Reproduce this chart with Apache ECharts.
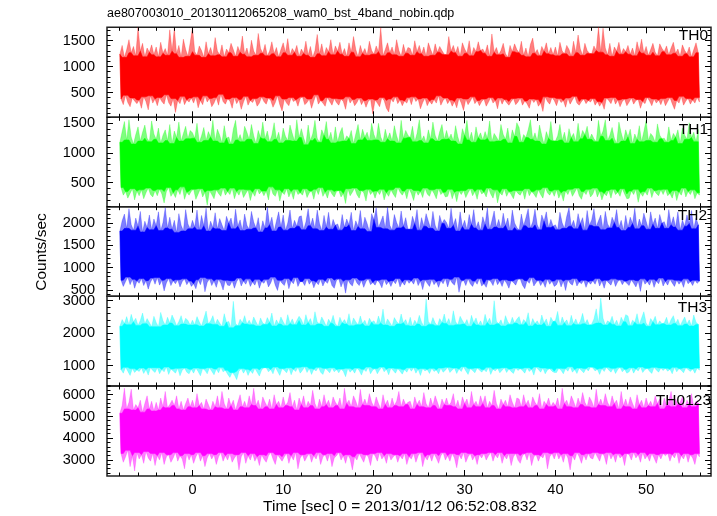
<!DOCTYPE html>
<html><head><meta charset="utf-8">
<script src="https://cdn.jsdelivr.net/npm/echarts@6/dist/echarts.min.js"></script>
<style>html,body{margin:0;padding:0;background:#fff}#c{width:717px;height:516px}</style>
</head><body><div id="c"></div>
<script>
// ---- data (counts/sec), one value every 0.125 s starting at t = -8 s ----
// values alternate between local highs and local lows of the light curve
const TIME_START = -8;
const TIME_STEP = 0.125;

const TH0 = [
1240,380,1410,270,1180,450,1330,310,1520,230,1270,400,1390,340,1210,290,1760,360,1300,200,1450,420,1190,330,1360,170,1280,440,1420,300,1230,380,
1380,250,1190,410,1470,330,1260,280,1350,460,1220,310,1710,240,1300,390,1740,120,1250,350,1410,290,1180,430,1530,270,1330,360,1200,320,1460,400,
1760,300,1290,420,1220,210,1400,350,1310,270,1180,440,1480,320,1250,390,1370,230,1210,300,1560,410,1300,260,1230,470,1420,330,1190,280,1340,380,
1270,340,1450,200,1330,410,1200,290,1390,370,1280,180,1590,320,1240,430,1360,260,1190,350,1510,310,1300,390,1220,240,1640,300,1350,420,1260,330,
1430,280,1210,400,1300,350,1480,220,1250,310,1370,440,1190,270,1330,150,1460,380,1270,300,1540,250,1220,410,1350,330,1280,360,1410,240,1200,390,
1340,420,1260,270,1490,310,1220,380,1390,200,1180,340,1310,460,1620,280,1250,350,1440,300,1210,240,1370,410,1290,330,1520,260,1230,390,1400,310,
1300,260,1470,380,1240,330,1350,180,1200,420,1460,300,1280,370,1580,250,1330,310,1190,400,1410,270,1260,350,1350,220,1220,330,1490,380,1310,90,
1240,360,1400,300,1290,230,1750,410,1210,350,1330,200,1460,130,1270,380,1380,320,1230,420,1520,290,1310,360,1200,250,1430,340,1260,300,1370,410,
1350,270,1220,420,1500,330,1290,380,1410,190,1250,310,1380,400,1200,250,1460,340,1330,280,1220,370,1440,300,1280,440,1390,260,1310,350,1240,400,
1230,290,1580,360,1300,240,1410,330,1270,210,1390,400,1200,300,1460,160,1340,380,1260,270,1500,340,1210,420,1370,290,1290,350,1480,250,1310,330,
1340,380,1260,240,1420,320,1200,410,1630,300,1280,350,1370,190,1230,400,1310,280,1450,370,1250,310,1180,260,1410,330,1290,390,1440,270,1330,320,
1270,400,1490,260,1220,340,1360,290,1190,200,1430,380,1550,310,1260,370,1330,240,1210,300,1390,140,1300,420,1460,330,1250,280,1370,410,1230,350,
1380,250,1210,390,1470,310,1300,350,1250,220,1410,400,1330,280,1200,360,1490,430,1270,300,1610,260,1340,330,1220,380,1450,290,1310,350,1260,320,
1250,390,1400,260,1310,330,1760,240,1280,310,1740,180,1360,400,1230,350,1450,290,1200,410,1380,280,1300,360,1470,230,1240,330,1350,380,1290,250,
1410,320,1240,400,1360,280,1210,350,1480,370,1300,200,1530,330,1260,290,1390,410,1220,340,1330,250,1450,380,1280,300,1210,360,1440,270,1350,390,
1290,250,1400,330,1230,410,1360,290,1470,180,1260,350,1340,300,1200,430,1420,260,1310,340,1250,390,1380,280,1190,360,1330,300,1460,410,1270,320];

const TH1 = [
1180,420,1360,290,1530,350,1220,240,1560,320,1270,400,1150,210,1310,360,1440,280,1200,380,1350,230,1470,330,1250,410,1190,300,1540,260,1320,370,
1230,280,1420,390,1170,310,1300,160,1390,350,1210,420,1480,270,1160,330,1370,250,1260,380,1520,300,1200,430,1330,220,1450,340,1240,290,1380,360,
1340,390,1250,220,1500,310,1180,400,1290,260,1430,340,1210,120,1360,370,1270,300,1550,230,1200,380,1400,320,1300,270,1170,410,1460,290,1250,350,
1270,300,1150,410,1400,230,1550,350,1220,290,1310,390,1190,250,1450,320,1350,380,1230,200,1480,340,1290,270,1160,400,1380,310,1260,360,1520,280,
1240,360,1370,210,1190,430,1300,310,1510,270,1230,380,1350,190,1170,340,1420,300,1280,400,1210,260,1470,350,1330,220,1200,390,1560,300,1260,330,
1410,290,1260,400,1140,250,1470,330,1210,360,1320,220,1550,390,1250,300,1180,420,1390,270,1300,340,1530,240,1230,380,1350,310,1170,260,1440,350,
1190,370,1340,260,1430,320,1200,150,1290,400,1250,280,1380,340,1160,410,1320,300,1480,240,1220,370,1400,330,1270,190,1350,390,1210,300,1500,350,
1310,240,1220,360,1500,300,1270,390,1180,210,1400,330,1240,270,1340,380,1200,310,1460,250,1290,420,1170,340,1550,290,1250,360,1380,230,1300,400,
1260,320,1450,200,1190,370,1330,290,1560,350,1210,250,1290,410,1170,310,1390,270,1240,380,1520,320,1300,230,1200,400,1360,300,1480,340,1230,260,
1380,270,1240,390,1320,230,1200,340,1460,180,1270,360,1150,300,1410,370,1300,250,1550,330,1220,400,1350,280,1180,350,1440,220,1260,390,1340,310,
1220,340,1360,260,1250,410,1540,310,1190,240,1330,380,1270,160,1200,330,1480,290,1310,400,1230,270,1420,350,1170,300,1390,230,1280,370,1510,320,
1430,290,1180,370,1310,220,1260,400,1390,280,1560,350,1230,310,1340,250,1200,380,1470,300,1290,240,1150,420,1360,330,1250,290,1530,360,1210,270,
1200,380,1290,240,1480,330,1220,190,1350,360,1170,300,1410,390,1260,270,1330,340,1190,410,1500,280,1240,220,1380,350,1310,300,1450,390,1230,260,
1320,310,1240,410,1190,260,1550,350,1280,210,1370,320,1560,280,1210,370,1300,240,1430,390,1250,300,1160,340,1520,270,1340,400,1200,310,1390,230,
1270,240,1400,360,1160,300,1320,390,1230,170,1460,330,1190,270,1360,350,1550,290,1210,410,1330,250,1280,370,1180,320,1490,280,1300,380,1240,300,
1250,390,1180,280,1440,320,1210,240,1330,370,1270,200,1390,340,1160,290,1420,410,1300,260,1230,350,1510,300,1260,380,1350,230,1190,330,1400,290];

const TH2 = [
1820,720,2050,580,2200,690,1880,790,2320,620,1960,740,1840,540,2110,700,1930,650,2260,760,1800,600,2040,710,1900,520,2180,680,1850,770,2090,630,
1940,780,2250,610,1830,720,2010,480,2340,660,1890,760,2130,600,1860,710,2060,640,1790,730,2210,570,1950,690,1820,750,2300,620,1980,700,1870,580,
2060,640,1910,530,2290,730,1850,620,2170,780,1940,460,2330,670,1820,750,2040,600,1900,700,2230,560,1870,740,2100,650,1960,500,1830,720,2150,610,
2000,600,2110,710,1870,540,2310,690,1930,770,2070,590,1830,700,2200,630,1950,750,1860,580,2260,680,2020,610,1890,740,2120,540,1800,690,2050,650,
1890,740,2350,570,1960,660,2130,790,1820,610,2040,490,2250,720,1910,650,2180,600,1840,760,2000,530,2290,700,1880,640,2060,780,1930,580,2140,690,
2160,690,1850,600,2020,760,2320,630,1940,710,2110,550,1870,680,2290,620,1990,740,1830,590,2170,700,1910,650,2240,770,1860,600,2080,540,1950,720,
1980,750,1840,570,2190,700,1910,430,2090,730,1960,640,2240,590,1830,770,2050,660,1920,600,2280,720,1870,560,2130,690,1990,750,1810,620,2210,670,
2080,610,2340,720,1900,660,2030,550,2160,740,1870,620,2350,690,1950,580,1840,710,2190,640,2010,760,1890,570,2270,680,1930,610,2120,730,1860,650,
1860,710,2150,630,1990,770,2300,600,1840,700,2120,510,1930,730,2210,650,2040,580,1880,740,2260,620,1950,690,1820,560,2170,710,1990,640,2080,760,
2010,570,1880,740,2330,660,1950,610,2100,790,1820,450,2250,680,1920,720,2060,600,1850,750,2190,640,1970,580,2300,700,1890,630,2030,760,1840,590,
2140,640,1970,560,2340,730,1860,690,2050,600,2270,760,1910,620,2080,700,1880,580,2220,730,1950,650,2110,540,1830,710,2290,670,2000,610,1900,740,
1840,750,2200,610,1940,530,2120,710,2320,650,1890,780,2020,590,2310,670,1960,720,1850,600,2180,690,2040,560,2250,740,1900,630,2080,700,1930,580,
1960,620,1850,740,2240,570,2000,700,1880,490,2150,730,2340,650,1930,610,2060,760,1870,590,2210,680,1990,640,2120,720,1840,560,2280,690,1950,630,
2070,710,2320,630,1920,760,2050,590,2180,700,1850,540,2260,720,1980,660,1890,610,2130,750,2010,580,2300,690,1900,730,2060,620,1830,700,2170,650,
1900,600,2130,730,1990,650,2330,570,1870,710,2090,470,1940,750,2220,630,2040,690,1860,610,2250,740,1970,560,2110,700,1880,640,2190,770,2000,590,
2030,690,1880,610,2300,740,1960,660,2140,580,1910,720,2250,630,1840,700,2070,560,1930,750,2180,640,1990,690,2280,600,1870,720,2110,650,1960,700];

const TH3 = [
2210,880,2420,770,2300,950,2510,830,2260,700,2580,910,2350,790,2460,870,2240,820,2390,930,2620,760,2290,880,2450,710,2330,940,2200,850,2520,790,
2330,940,2200,750,2640,880,2380,810,2250,960,2490,730,2310,900,2560,840,2410,770,2230,920,2360,690,2540,860,2280,930,2460,800,2390,750,2250,890,
2400,770,2260,930,2510,820,2350,690,2220,910,2450,860,2680,750,2290,940,2380,830,2540,720,2270,900,2430,780,2310,950,2210,810,2600,860,2340,740,
2360,640,2170,790,2980,710,2300,570,2230,830,2430,910,2320,770,2540,890,2280,700,2400,850,2260,760,2500,920,2350,800,2220,680,2470,870,2310,940,
2270,940,2480,810,2340,880,2620,750,2220,960,2410,830,2280,700,2500,910,2350,860,2230,780,2570,940,2300,720,2440,890,2260,820,2390,950,2520,770,
2420,860,2250,970,2570,790,2330,910,2450,730,2240,890,2660,840,2350,950,2280,800,2500,730,2370,920,2210,860,2430,780,2310,940,2550,810,2290,880,
2210,780,2490,900,2320,830,2420,660,2280,920,2600,800,2230,880,2470,770,2350,930,2260,850,2530,710,2300,890,2400,820,2220,960,2460,750,2340,870,
2380,910,2260,750,2530,870,2310,960,2740,810,2250,890,2440,720,2330,930,2210,850,2480,770,2360,910,2280,830,2590,740,2320,880,2420,800,2240,940,
2490,830,2220,940,2400,770,2280,890,2550,700,2340,910,2210,840,3050,880,2360,760,2270,920,2480,820,2310,870,2230,750,2450,930,2330,800,2590,860,
2300,950,2450,790,2240,870,2690,930,2350,760,2260,900,2520,820,2390,970,2280,840,2420,730,2210,910,2550,850,2330,780,2470,930,2250,870,2380,800,
2230,880,2580,810,2330,950,2460,730,2250,890,3000,840,2370,920,2290,780,2410,860,2220,940,2540,790,2350,900,2270,820,2490,760,2310,930,2430,850,
2510,910,2260,850,2420,770,2340,940,2630,820,2220,890,2450,710,2300,960,2380,880,2250,800,2560,930,2320,750,2440,870,2210,910,2490,830,2360,790,
2390,790,2670,920,2240,860,2500,750,2320,910,2410,830,2230,970,2550,800,2300,880,2440,760,2260,930,2370,850,2610,780,2290,910,2420,840,2250,960,
2280,930,2440,840,2750,890,2310,730,3080,910,2460,820,2250,950,2380,870,2330,800,2520,920,2270,760,2400,880,2220,950,2490,810,2350,890,2570,770,
2530,810,2230,940,2400,770,2340,900,2600,840,2270,960,2470,790,2660,880,2310,920,2210,830,2450,760,2350,950,2520,870,2260,800,2380,930,2290,850,
2320,920,2490,830,2250,890,2420,750,2540,950,2300,810,2430,910,2230,860,2370,780,2500,940,2280,880,2410,820,2220,900,2560,770,2340,930,2270,860];

const TH0123 = [
5150,3300,5500,2900,6300,3150,5350,3450,5650,2700,6250,3200,5300,2500,5550,3350,5400,3050,5750,3250,5200,2850,5600,3400,5950,3100,5350,2950,5700,3300,5250,2750,
5650,3200,5300,3000,5850,3350,5450,2800,6150,3150,5400,3250,5550,2900,5750,3100,5500,3350,5950,2950,5350,3200,5700,3050,5300,2600,5600,3300,5850,3000,5450,3250,
5750,2850,5400,3150,6050,3350,5500,2950,5650,3200,5350,2700,5800,3100,5550,3300,5300,3050,5700,3250,5450,2800,5950,3150,5400,3350,6150,2950,5600,3200,5350,3000,
5850,3300,5500,2900,5750,3100,5300,3250,5650,2550,6000,3150,5450,3350,5700,2850,5400,3200,5950,3000,5550,3300,6300,2950,5500,3150,5750,2750,5350,3250,5900,3050,
5650,2900,5450,3200,5800,3350,5350,3050,6000,2800,5550,3250,5700,3100,5400,2950,5900,3150,5500,3300,5650,2850,6100,3200,5450,3000,5750,3350,5300,2600,5850,3100,
5550,3250,5950,2950,5400,3150,5700,3300,5500,2900,6200,3200,5600,3050,5350,3350,5800,2800,5450,3150,6000,3250,5550,2950,5750,3300,5400,2700,5900,3100,5650,3200,
5500,3350,5850,3000,5350,3200,6300,2850,5600,3250,5750,3050,5450,2550,5950,3150,5700,3000,5400,3300,6250,3100,5550,2900,5800,3250,5500,3150,6050,2750,5650,3300,
5450,3200,5900,2950,5600,3350,5350,3050,6000,3200,5550,2850,5750,3300,5400,3000,5850,3150,5500,3250,5700,2900,6150,3200,5450,3050,5800,3300,5550,2800,5650,3150,
5700,3050,5350,3300,5900,2900,5550,3200,5750,3350,5450,2700,6100,3150,5600,3000,5400,3250,5850,2950,5500,3300,5950,3100,5650,2850,5350,3200,5800,3350,5550,3000,
5850,3200,5500,2950,5650,3300,6050,3100,5450,2650,5750,3250,5350,3050,5900,3350,5600,2900,5800,3150,5400,3300,6150,3000,5550,3200,5700,2800,5450,3250,5950,3100,
5600,3300,5950,3000,5400,3200,5700,3350,5500,2950,6200,3250,5600,3100,5350,3350,5800,2850,5550,3200,5750,3050,5450,3300,6000,2750,5650,3150,5400,3300,5850,3000,
5800,2850,5450,3200,6000,3300,5550,3000,5750,3350,5400,2750,5900,3150,5650,3250,5500,2950,6050,3200,5350,3100,5700,3350,5550,2600,5850,3150,5450,3300,5650,3050,
5500,3350,5850,3050,5350,3250,6300,2900,5600,3300,5750,3100,5450,2550,5950,3200,5700,3000,5400,3350,5850,3150,5550,2850,6100,3250,5650,3000,5450,3300,5900,3100,
5700,3050,5400,3350,6250,3150,5550,2950,5800,3300,5500,3200,6050,2800,5650,3350,5450,3050,5950,3250,5600,2900,5750,3300,5350,3100,6150,3200,5500,2750,5800,3300,
5450,3250,5900,3000,5600,3350,5350,3100,6000,3250,5550,2900,5750,3350,5400,3050,5850,3200,5500,2950,5700,3300,5450,3100,5950,2850,5600,3250,5800,3050,5350,3300,
5850,3200,5500,3300,5700,2950,6150,3250,5450,3100,5800,3350,5550,2850,5650,3200,5900,3050,5400,3300,5750,2900,5550,3250,6050,3100,5450,2800,5700,3300,5600,3150];

// ---- tick labels ----
const X_TICKS = [0, 10, 20, 30, 40, 50];
const X_MINOR = [-8,-6,-4,-2,0,2,4,6,8,10,12,14,16,18,20,22,24,26,28,30,32,34,36,38,40,42,44,46,48,50,52,54,56];
const Y_TICKS_TH0 = [500, 1000, 1500];
const Y_TICKS_TH1 = [500, 1000, 1500];
const Y_TICKS_TH2 = [500, 1000, 1500, 2000];
const Y_TICKS_TH3 = [1000, 2000, 3000];
const Y_TICKS_TH0123 = [3000, 4000, 5000, 6000];

const TITLE = 'ae807003010_20130112065208_wam0_bst_4band_nobin.qdp';
const X_NAME = 'Time [sec] 0 = 2013/01/12 06:52:08.832';
const Y_NAME = 'Counts/sec';

// ---- layout / styling ----
const FONT = '"Liberation Sans", Arial, Helvetica, sans-serif';
const X_MIN = -9.42, X_MAX = 57.15;
const panels = [
  {name:'TH0',    color:'#ff0000', fringe:'rgba(255,0,0,0.5)',   data:TH0,    min:27,   max:1758, major:Y_TICKS_TH0,    minorStep:100, top:27.3,  height:90.0, labTop:28,  labRight:9},
  {name:'TH1',    color:'#00ff00', fringe:'rgba(0,255,0,0.5)',   data:TH1,    min:96,   max:1601, major:Y_TICKS_TH1,    minorStep:100, top:117.3, height:89.4, labTop:122, labRight:9},
  {name:'TH2',    color:'#0000ff', fringe:'rgba(0,0,255,0.5)',   data:TH2,    min:360,  max:2365, major:Y_TICKS_TH2,    minorStep:100, top:206.7, height:89.6, labTop:208, labRight:10},
  {name:'TH3',    color:'#00ffff', fringe:'rgba(0,255,255,0.5)', data:TH3,    min:375,  max:3135, major:Y_TICKS_TH3,    minorStep:200, top:296.3, height:89.7, labTop:300, labRight:10},
  {name:'TH0123', color:'#ff00ff', fringe:'rgba(255,0,255,0.5)', data:TH0123, min:2270, max:6400, major:Y_TICKS_TH0123, minorStep:200, top:386.0, height:90.0, labTop:393, labRight:6}
];

function minorList(min, max, step) {
  const out = [];
  for (let v = Math.ceil(min / step) * step; v <= max; v += step) out.push(v);
  return out;
}

const grids = [], xAxes = [], yAxes = [], series = [], titles = [];
titles.push({text: TITLE, left: 107, top: 7, padding: 0,
  textStyle: {fontFamily: FONT, fontSize: 12.5, fontWeight: 'normal', color: '#000'}});

panels.forEach((p, i) => {
  grids.push({left: 107, top: p.top, width: 604, height: p.height, show: true,
    borderColor: '#222', borderWidth: 1.5, backgroundColor: 'transparent'});
  const last = i === panels.length - 1;
  xAxes.push({type: 'value', gridIndex: i, min: X_MIN, max: X_MAX, position: 'bottom',
    splitLine: {show: false}, axisLine: {show: false, onZero: false}, axisTick: {show: false},
    axisLabel: {show: last, customValues: X_TICKS, formatter: v => String(v),
      fontFamily: FONT, fontSize: 14.5, color: '#000', margin: 6}});
  yAxes.push({type: 'value', gridIndex: i, min: p.min, max: p.max, position: 'left',
    splitLine: {show: false}, axisLine: {show: false, onZero: false}, axisTick: {show: false},
    axisLabel: {show: true, customValues: p.major, formatter: v => String(v),
      fontFamily: FONT, fontSize: 14.5, color: '#000', margin: 12}});

  const pts = p.data.map((v, k) => [TIME_START + TIME_STEP * k, v]);
  const mid = (p.min + p.max) / 2;
  const clamp = v => Math.max(p.min, Math.min(p.max, v));
  const highs = pts.filter(d => d[1] >= mid), lows = pts.filter(d => d[1] < mid);
  series.push({
    type: 'custom', name: p.name, xAxisIndex: i, yAxisIndex: i,
    data: pts, encode: {x: 0, y: 1}, animation: false, z: 2, silent: true,
    renderItem: function (params, api) {
      if (params.dataIndex !== 0) return null;
      const c = d => api.coord([d[0], clamp(d[1])]);
      const up = highs.map(c), lo = lows.map(c);
      // dense core: where neighbouring strokes overlap
      const upIn = highs.map((d, j) => c([d[0], Math.min(highs[Math.max(0, j - 1)][1], d[1], highs[Math.min(highs.length - 1, j + 1)][1])]));
      const loIn = lows.map((d, j) => c([d[0], Math.max(lows[Math.max(0, j - 1)][1], d[1], lows[Math.min(lows.length - 1, j + 1)][1])]));
      return {type: 'group', children: [
        {type: 'polygon', shape: {points: up.concat(lo.slice().reverse())},
          style: {fill: p.fringe, stroke: p.fringe, lineWidth: 0.5}},
        {type: 'polygon', shape: {points: upIn.concat(loIn.slice().reverse())},
          style: {fill: p.color, stroke: p.color, lineWidth: 0.5}}
      ]};
    }
  });
  titles.push({text: p.name, right: p.labRight, top: p.labTop, padding: 0,
    textStyle: {fontFamily: FONT, fontSize: 15.5, fontWeight: 'normal', color: '#000'}});
});

const baseGraphics = [
  {type: 'text', x: 42, y: 252, rotation: Math.PI / 2,
   style: {text: Y_NAME, font: '15.5px ' + FONT, fill: '#000', align: 'center', verticalAlign: 'middle'}},
  {type: 'text', x: 400, y: 507,
   style: {text: X_NAME, font: '15.5px ' + FONT, fill: '#000', align: 'center', verticalAlign: 'middle'}}
];

const chart = echarts.init(document.getElementById('c'), null, {renderer: 'canvas'});
chart.setOption({
  animation: false,
  backgroundColor: '#fff',
  title: titles,
  grid: grids,
  xAxis: xAxes,
  yAxis: yAxes,
  series: series,
  graphic: baseGraphics
});

// frame ticks on all four sides, pointing inward, positioned through the axes' scales
const TICK_MAJOR = 6, TICK_MINOR = 3.5;
const tickEls = [];
panels.forEach((p, i) => {
  const px = (x, y) => chart.convertToPixel({gridIndex: i}, [x, y]);
  const snap = v => Math.round(v - 0.5) + 0.5;
  const line = (x1, y1, x2, y2) => tickEls.push({type: 'line', silent: true, z: 50,
    shape: {x1: x1, y1: y1, x2: x2, y2: y2}, style: {stroke: '#000', lineWidth: 1}});
  const xt = (vals, len) => vals.forEach(v => {
    const b = px(v, p.min), t = px(v, p.max), x = snap(b[0]);
    line(x, b[1], x, b[1] - len);
    line(x, t[1], x, t[1] + len);
  });
  const yt = (vals, len) => vals.forEach(v => {
    const l = px(X_MIN, v), r = px(X_MAX, v), y = snap(l[1]);
    line(l[0], y, l[0] + len, y);
    line(r[0], y, r[0] - len, y);
  });
  xt(X_TICKS, TICK_MAJOR); xt(X_MINOR, TICK_MINOR);
  yt(p.major, TICK_MAJOR); yt(minorList(p.min, p.max, p.minorStep), TICK_MINOR);
});
chart.setOption({graphic: {elements: baseGraphics.concat(tickEls)}}, {replaceMerge: ['graphic']});
</script></body></html>
